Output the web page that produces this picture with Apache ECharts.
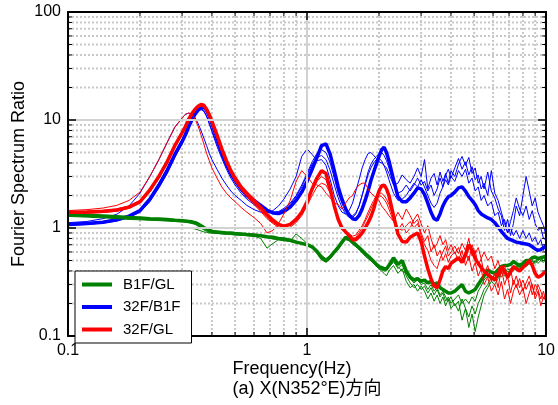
<!DOCTYPE html>
<html><head><meta charset="utf-8">
<script src="https://cdn.jsdelivr.net/npm/echarts@6/dist/echarts.min.js"></script>
<style>html,body{margin:0;padding:0;background:#fff}#c{width:558px;height:405px}</style>
</head><body><div id="c"></div>
<script>
// Frequency (Hz) sample points shared by all curves
const FREQ = [
0.1,0.12,0.14,0.16,0.18,0.2,0.22,0.24,0.26,0.28,
0.3,0.31,0.32,0.33,0.34,0.35,0.36,0.37,0.38,0.39,
0.4,0.42,0.44,0.46,0.48,0.5,0.53,0.56,0.6,0.64,
0.68,0.72,0.76,0.8,0.85,0.9,0.95,1.0,1.05,1.1,
1.15,1.2,1.25,1.3,1.35,1.4,1.45,1.5,1.55,1.6,
1.65,1.7,1.75,1.8,1.85,1.9,1.95,2.0,2.05,2.1,
2.15,2.2,2.3,2.4,2.5,2.6,2.7,2.8,2.9,3.0,
3.1,3.2,3.3,3.4,3.5,3.6,3.7,3.8,3.9,4.0,
4.15,4.3,4.45,4.6,4.75,4.9,5.05,5.2,5.35,5.5,
5.7,5.9,6.1,6.3,6.5,6.7,6.9,7.1,7.3,7.5,
7.75,8.0,8.25,8.5,8.75,9.0,9.25,9.5,9.75,10.0];

// 32F/B1F
const B_THICK = [
1.08,1.1,1.13,1.19,1.29,1.45,1.85,2.5,3.4,4.8,
6.3,7.3,8.7,10.0,11.3,12.3,13.0,13.2,12.3,10.9,
9.3,6.8,5.0,3.9,3.2,2.75,2.3,2.0,1.8,1.62,
1.46,1.38,1.36,1.42,1.56,1.8,2.15,2.7,3.5,4.5,
5.8,6.0,4.8,3.4,2.4,1.85,1.5,1.32,1.22,1.2,
1.3,1.5,1.8,2.2,2.75,3.3,3.9,4.6,5.3,5.6,
5.0,4.2,2.8,1.95,1.75,1.75,1.9,2.1,2.35,2.3,
2.05,1.7,1.4,1.22,1.18,1.35,1.6,1.8,1.95,2.0,
2.15,2.35,2.4,2.2,1.95,1.8,1.65,1.45,1.35,1.3,
1.24,1.2,1.12,1.02,0.93,0.86,0.8,0.78,0.76,0.74,
0.73,0.72,0.71,0.7,0.67,0.64,0.62,0.63,0.66,0.68];
const B_T1 = [
1.12,1.15,1.22,1.34,1.6,2.1,3.0,4.3,6.2,8.6,
10.4,11.3,11.6,11.3,10.5,9.3,8.0,6.8,5.8,4.9,
4.3,3.5,2.9,2.5,2.2,2.0,1.8,1.62,1.48,1.4,
1.38,1.45,1.6,1.85,2.3,3.0,4.6,5.4,4.8,4.2,
4.3,3.8,2.8,2.0,1.6,1.4,1.35,1.45,1.7,2.2,
2.8,3.6,4.3,4.9,5.0,4.7,4.4,4.1,4.0,3.8,
3.6,3.2,2.5,2.6,3.1,2.8,2.6,3.0,3.6,3.0,
4.3,2.3,2.9,3.2,2.5,3.3,2.7,3.2,2.6,3.4,
3.0,3.9,4.6,3.8,4.5,3.2,3.6,2.6,3.0,2.3,
3.3,2.2,1.9,1.5,1.3,0.95,1.2,0.85,1.1,1.6,
1.3,2.0,3.0,2.2,1.6,1.9,1.4,1.2,1.05,0.85];
const B_T2 = [
1.06,1.08,1.11,1.16,1.25,1.4,1.75,2.35,3.2,4.5,
6.0,7.2,8.6,10.0,11.3,12.2,12.5,12.0,10.8,9.2,
7.8,5.7,4.4,3.5,2.9,2.5,2.1,1.85,1.65,1.5,
1.42,1.38,1.4,1.48,1.65,1.95,2.4,3.1,3.9,4.5,
4.7,4.3,3.4,2.5,1.9,1.55,1.35,1.25,1.25,1.35,
1.6,2.0,2.5,3.1,3.6,4.0,4.3,4.4,4.2,3.8,
3.3,2.8,2.1,1.8,1.85,2.0,2.3,2.6,2.4,2.8,
2.4,2.0,1.7,1.55,1.7,2.1,2.4,2.8,2.5,3.0,
2.7,3.4,3.0,3.5,2.6,2.9,2.2,2.4,1.8,2.0,
1.6,1.75,1.3,1.4,1.05,1.2,0.9,1.0,0.85,0.95,
0.8,0.95,0.8,0.9,0.75,0.82,0.7,0.78,0.62,0.7];
const B_T3 = [
1.1,1.12,1.15,1.2,1.3,1.48,1.9,2.6,3.6,5.0,
6.6,7.8,9.2,10.6,11.8,12.6,12.8,12.2,10.9,9.3,
8.0,6.0,4.6,3.7,3.1,2.65,2.2,1.92,1.7,1.55,
1.45,1.4,1.42,1.52,1.7,2.0,2.5,3.2,4.1,4.9,
5.3,5.0,4.0,2.9,2.1,1.7,1.45,1.32,1.3,1.38,
1.6,2.0,2.6,3.3,3.9,4.3,4.6,4.9,5.0,4.7,
4.2,3.6,2.6,2.1,2.2,2.5,2.2,2.5,2.9,2.5,
2.7,2.2,2.5,2.0,2.3,2.9,2.4,3.1,3.5,2.9,
3.6,4.4,3.5,4.1,3.1,3.7,2.8,3.1,2.3,2.6,
2.0,3.4,2.1,1.8,1.4,1.1,0.9,1.15,1.45,1.9,
1.5,1.3,1.6,1.2,1.45,1.1,0.95,1.0,0.8,0.78];

// 32F/GL
const R_THICK = [
1.4,1.41,1.43,1.47,1.56,1.75,2.25,3.0,4.1,5.8,
7.6,8.7,10.2,11.5,12.6,13.4,13.9,13.7,12.6,11.2,
9.7,7.3,5.4,4.2,3.4,2.9,2.4,2.1,1.8,1.55,
1.33,1.18,1.08,1.04,1.08,1.2,1.4,1.75,2.3,2.9,
3.4,3.2,2.3,1.6,1.2,1.0,0.92,0.85,0.78,0.78,
0.83,0.9,1.0,1.12,1.27,1.5,1.85,2.2,2.45,2.5,
2.3,2.0,1.3,0.88,0.75,0.74,0.82,0.86,0.9,0.75,
0.55,0.42,0.34,0.29,0.28,0.33,0.4,0.44,0.42,0.47,
0.5,0.53,0.48,0.56,0.7,0.62,0.52,0.47,0.43,0.4,
0.37,0.35,0.33,0.38,0.44,0.4,0.35,0.39,0.44,0.42,
0.4,0.43,0.46,0.5,0.45,0.38,0.35,0.36,0.38,0.39];
const R_T1 = [
1.45,1.48,1.53,1.62,1.8,2.15,3.0,4.3,6.2,8.6,
10.4,11.3,11.6,11.2,10.2,8.8,7.3,6.0,4.9,4.2,
3.6,2.9,2.4,2.1,1.9,1.75,1.55,1.4,1.25,1.1,
0.9,0.95,1.1,1.35,1.8,2.7,3.4,3.0,2.6,2.5,
2.4,2.1,1.9,1.7,1.65,1.5,1.7,1.9,2.0,2.3,
2.5,2.6,2.6,2.3,2.1,2.0,1.9,1.8,1.6,1.5,
1.4,1.3,1.15,1.4,1.2,1.5,1.3,1.1,1.2,0.9,
0.75,0.85,0.6,0.7,0.55,0.62,0.5,0.58,0.48,0.55,
0.6,0.5,0.62,0.45,0.55,0.4,0.48,0.36,0.42,0.3,
0.35,0.26,0.3,0.24,0.32,0.22,0.27,0.2,0.26,0.3,
0.24,0.28,0.2,0.25,0.3,0.22,0.26,0.19,0.23,0.21];
const R_T2 = [
1.36,1.37,1.39,1.43,1.52,1.7,2.15,2.9,4.0,5.6,
7.4,8.5,9.9,11.2,12.3,13.0,13.4,13.1,12.0,10.6,
9.1,6.8,5.0,3.9,3.2,2.7,2.25,1.95,1.65,1.42,
1.22,1.1,1.02,0.98,1.02,1.12,1.3,1.6,2.0,2.4,
2.6,2.5,2.1,1.6,1.25,1.05,0.95,0.88,0.84,0.86,
0.95,1.05,1.2,1.4,1.6,1.8,2.0,2.1,2.1,2.0,
1.85,1.65,1.25,1.0,0.95,1.05,1.15,1.0,1.1,0.85,
0.7,0.62,0.5,0.45,0.42,0.52,0.6,0.68,0.55,0.6,
0.68,0.58,0.72,0.62,0.8,0.55,0.62,0.45,0.52,0.38,
0.45,0.32,0.38,0.28,0.42,0.3,0.36,0.25,0.33,0.28,
0.34,0.26,0.31,0.36,0.29,0.24,0.3,0.26,0.22,0.25];
const R_T3 = [
1.42,1.43,1.45,1.5,1.6,1.8,2.3,3.1,4.3,6.0,
7.8,9.0,10.5,11.8,12.8,13.4,13.6,13.2,12.1,10.7,
9.2,6.9,5.1,4.0,3.3,2.8,2.3,2.0,1.7,1.45,
1.25,1.12,1.05,1.02,1.06,1.16,1.35,1.7,2.2,2.7,
3.0,2.8,2.1,1.55,1.2,1.02,0.92,0.84,0.8,0.82,
0.9,1.0,1.15,1.3,1.5,1.7,1.9,2.0,1.95,1.85,
1.7,1.5,1.15,0.95,1.1,0.9,1.0,1.2,1.35,1.1,
0.9,1.05,0.8,0.65,0.72,0.85,0.7,0.78,0.62,0.7,
0.58,0.66,0.52,0.6,0.5,0.7,0.58,0.66,0.52,0.6,
0.5,0.55,0.42,0.5,0.38,0.45,0.34,0.42,0.3,0.36,
0.28,0.33,0.27,0.32,0.24,0.3,0.27,0.22,0.26,0.2];

// B1F/GL
const G_THICK = [
1.33,1.31,1.29,1.27,1.25,1.24,1.22,1.21,1.2,1.18,
1.17,1.16,1.15,1.14,1.12,1.09,1.05,1.01,0.98,0.95,
0.93,0.92,0.91,0.9,0.9,0.89,0.88,0.87,0.86,0.85,
0.83,0.82,0.8,0.79,0.77,0.74,0.72,0.7,0.67,0.61,
0.53,0.5,0.54,0.6,0.66,0.74,0.82,0.8,0.74,0.7,
0.66,0.62,0.58,0.55,0.52,0.49,0.46,0.44,0.43,0.42,
0.42,0.45,0.53,0.46,0.5,0.4,0.35,0.33,0.34,0.32,
0.33,0.31,0.32,0.3,0.31,0.28,0.27,0.26,0.25,0.25,
0.26,0.28,0.3,0.26,0.25,0.26,0.27,0.3,0.33,0.36,
0.41,0.39,0.38,0.41,0.44,0.45,0.45,0.46,0.49,0.47,
0.45,0.47,0.5,0.5,0.53,0.54,0.52,0.53,0.54,0.55];
const G_T1 = [
1.0,1.0,1.0,1.0,1.0,1.0,1.0,1.0,1.0,1.0,
1.0,1.0,1.0,0.99,0.98,0.96,0.94,0.92,0.91,0.9,
0.9,0.89,0.89,0.88,0.88,0.87,0.86,0.85,0.84,0.8,
0.65,0.72,0.78,0.76,0.76,0.88,0.8,0.72,0.68,0.62,
0.56,0.52,0.55,0.6,0.65,0.72,0.78,0.76,0.72,0.68,
0.64,0.6,0.57,0.54,0.5,0.47,0.44,0.42,0.4,0.38,
0.36,0.4,0.45,0.38,0.42,0.32,0.28,0.3,0.26,0.29,
0.26,0.22,0.25,0.21,0.24,0.2,0.23,0.19,0.22,0.18,
0.2,0.17,0.22,0.18,0.15,0.19,0.16,0.2,0.23,0.27,
0.3,0.35,0.32,0.38,0.35,0.4,0.37,0.42,0.4,0.44,
0.42,0.46,0.44,0.48,0.45,0.5,0.47,0.5,0.48,0.52];
const G_T2 = [
1.28,1.26,1.24,1.22,1.2,1.19,1.18,1.17,1.16,1.15,
1.14,1.13,1.12,1.1,1.08,1.04,1.0,0.96,0.93,0.91,
0.9,0.89,0.88,0.88,0.87,0.86,0.86,0.85,0.84,0.83,
0.81,0.79,0.78,0.77,0.75,0.73,0.71,0.69,0.65,0.58,
0.51,0.48,0.52,0.58,0.64,0.72,0.8,0.77,0.71,0.67,
0.63,0.59,0.55,0.52,0.5,0.47,0.44,0.42,0.41,0.4,
0.4,0.43,0.5,0.42,0.46,0.36,0.31,0.28,0.3,0.27,
0.29,0.25,0.28,0.24,0.27,0.23,0.25,0.21,0.23,0.2,
0.22,0.24,0.2,0.22,0.2,0.23,0.21,0.26,0.29,0.33,
0.36,0.33,0.37,0.35,0.4,0.38,0.42,0.4,0.45,0.43,
0.47,0.44,0.48,0.46,0.5,0.48,0.52,0.5,0.53,0.51];
const G_T3 = [
1.3,1.28,1.27,1.25,1.24,1.22,1.21,1.2,1.19,1.17,
1.16,1.15,1.13,1.12,1.1,1.07,1.03,0.99,0.96,0.93,
0.92,0.91,0.9,0.89,0.89,0.88,0.87,0.86,0.85,0.84,
0.82,0.8,0.79,0.78,0.76,0.73,0.71,0.69,0.66,0.6,
0.52,0.49,0.53,0.59,0.65,0.73,0.8,0.78,0.73,0.68,
0.65,0.61,0.57,0.54,0.51,0.48,0.45,0.43,0.42,0.41,
0.41,0.44,0.48,0.44,0.4,0.38,0.34,0.31,0.33,0.3,
0.31,0.27,0.3,0.26,0.28,0.24,0.26,0.23,0.21,0.23,
0.19,0.21,0.14,0.18,0.12,0.16,0.11,0.15,0.19,0.24,
0.28,0.32,0.3,0.34,0.38,0.36,0.4,0.38,0.42,0.45,
0.43,0.46,0.44,0.47,0.49,0.47,0.5,0.52,0.5,0.53];

// minor grid / tick positions
const X_MINOR = [0.2,0.3,0.4,0.5,0.6,0.7,0.8,0.9,2,3,4,5,6,7,8,9];
const Y_MINOR = [0.2,0.3,0.4,0.5,0.6,0.7,0.8,0.9,2,3,4,5,6,7,8,9,20,30,40,50,60,70,80,90];
const LEGEND_NAMES = ['B1F/GL','32F/B1F','32F/GL'];

const FONT = '"Liberation Sans", Arial, "Noto Sans CJK JP", sans-serif';
const GREEN = '#008000', BLUE = '#0000ff', RED = '#ff0000';

function pairs(vals){ return FREQ.map(function(f,i){ return [f, vals[i]]; }); }
const series = [];
function addLine(name, vals, color, width, z){
  series.push({type:'line', name:name, data:pairs(vals), showSymbol:false, symbol:'none',
    lineStyle:{color:color, width:width}, itemStyle:{color:color}, z:z, silent:true, animation:false});
}
addLine('32F/B1F', B_T1, BLUE, 1, 3);
addLine('32F/B1F', B_T2, BLUE, 1, 3);
addLine('32F/B1F', B_T3, BLUE, 1, 3);
addLine('32F/B1F', B_THICK, BLUE, 3.5, 4);
addLine('B1F/GL', G_T1, GREEN, 1, 5);
addLine('B1F/GL', G_T2, GREEN, 1, 5);
addLine('B1F/GL', G_T3, GREEN, 1, 5);
addLine('B1F/GL', G_THICK, GREEN, 3.5, 6);
addLine('32F/GL', R_T1, RED, 1, 7);
addLine('32F/GL', R_T2, RED, 1, 7);
addLine('32F/GL', R_T3, RED, 1, 7);
addLine('32F/GL', R_THICK, RED, 3.5, 8);

const DOT = {stroke:'#c8c8c8', lineWidth:2, lineDash:[2,2]};
series.push({type:'custom', coordinateSystem:'cartesian2d', z:1, silent:true, clip:false,
  data: X_MINOR.map(function(v){ return [v, 1]; }),
  renderItem: function(params, api){
    const x = api.coord([api.value(0), 1])[0];
    const cs = params.coordSys; const t = cs.y, b = cs.y + cs.height;
    return {type:'group', children:[
      {type:'line', shape:{x1:x,y1:t,x2:x,y2:b}, style:DOT},
      {type:'line', shape:{x1:x,y1:b,x2:x,y2:b-4}, style:{stroke:'#000', lineWidth:1}, z2:10},
      {type:'line', shape:{x1:x,y1:t,x2:x,y2:t+4}, style:{stroke:'#000', lineWidth:1}, z2:10}
    ]};
  }});
series.push({type:'custom', coordinateSystem:'cartesian2d', z:1, silent:true, clip:false,
  data: Y_MINOR.map(function(v){ return [1, v]; }),
  renderItem: function(params, api){
    const y = api.coord([1, api.value(1)])[1];
    const cs = params.coordSys; const l = cs.x, r = cs.x + cs.width;
    return {type:'group', children:[
      {type:'line', shape:{x1:l,y1:y,x2:r,y2:y}, style:DOT},
      {type:'line', shape:{x1:l,y1:y,x2:l+4,y2:y}, style:{stroke:'#000', lineWidth:1}, z2:10},
      {type:'line', shape:{x1:r,y1:y,x2:r-4,y2:y}, style:{stroke:'#000', lineWidth:1}, z2:10}
    ]};
  }});

function fmt(v){ return v >= 1 ? String(Math.round(v)) : String(+v.toFixed(1)); }
const AXLINE = {show:true, onZero:false, lineStyle:{color:'#000', width:2}};
const AXTICK = {show:true, inside:true, length:8, lineStyle:{color:'#000', width:1.5}};
const SPLIT = {show:true, lineStyle:{color:'#d2d2d2', width:2}};
function logAxis(min, max, pos, main){
  return {type:'log', logBase:10, min:min, max:max, position:pos, axisLine:AXLINE, axisTick:AXTICK,
    axisLabel: main ? {show:true, fontSize:16, color:'#000', margin:7, fontFamily:FONT, formatter:fmt} : {show:false},
    splitLine: main ? SPLIT : {show:false}, z:10};
}

const option = {
  animation:false,
  backgroundColor:'#fff',
  grid:{left:68, right:9, top:12, bottom:69, containLabel:false},
  xAxis:[logAxis(0.1, 10, 'bottom', true), logAxis(0.1, 10, 'top', false)],
  yAxis:[logAxis(0.1, 100, 'left', true), logAxis(0.1, 100, 'right', false)],
  legend:{data:LEGEND_NAMES, orient:'vertical', left:75, top:271, padding:[6,11,6,7], itemGap:7.5,
    itemWidth:30, itemHeight:4, icon:'rect', borderColor:'#000', borderWidth:1, backgroundColor:'#fff',
    borderRadius:0, selectedMode:false, z:20,
    textStyle:{fontSize:15, color:'#000', fontFamily:FONT, padding:[0,0,0,6]}},
  graphic:[
    {type:'text', x:19, y:174, rotation:Math.PI/2, z:20,
      style:{text:'Fourier Spectrum Ratio', font:'18px ' + FONT, fill:'#000', align:'center', verticalAlign:'middle'}},
    {type:'text', x:292, y:369, z:20,
      style:{text:'Frequency(Hz)', font:'18px ' + FONT, fill:'#000', align:'center', verticalAlign:'middle'}},
    {type:'text', x:307, y:389, z:20,
      style:{text:'(a) X(N352°E)方向', font:'18px ' + FONT, fill:'#000', align:'center', verticalAlign:'middle'}}
  ],
  series:series
};
const chart = echarts.init(document.getElementById('c'), null, {renderer:'canvas'});
chart.setOption(option);
</script>
</body></html>
